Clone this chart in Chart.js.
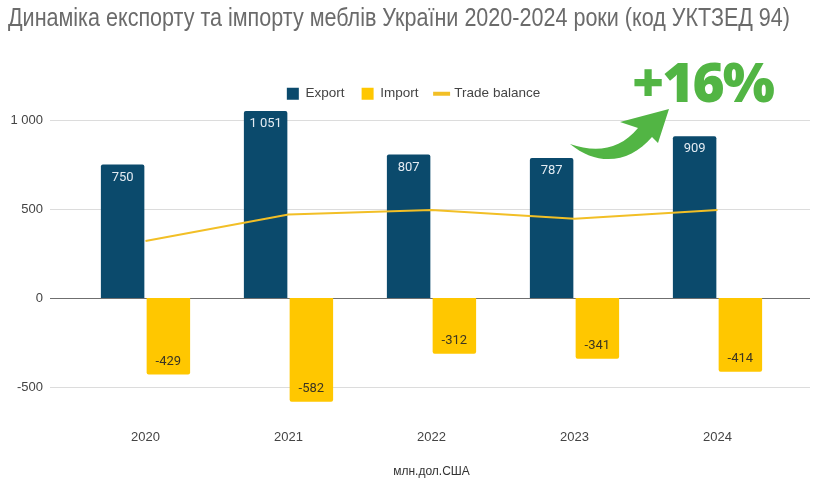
<!DOCTYPE html>
<html lang="uk">
<head>
<meta charset="utf-8">
<title>Динаміка експорту та імпорту меблів</title>
<script src="https://cdn.jsdelivr.net/npm/chart.js@4.4.1/dist/chart.umd.min.js"></script>
<style>
  html, body { margin: 0; padding: 0; background: #fff; }
  #wrap { position: relative; width: 813px; height: 486px; overflow: hidden; }
  #title {
    position: absolute; left: 8px; top: 3px; white-space: nowrap;
    font-family: 'Liberation Sans Narrow', 'Liberation Sans', Arial, sans-serif;
    font-size: 25px; color: #6b6b6b; transform-origin: left top;
  }
  #growth {
    position: absolute; left: 632px; top: 53px; line-height: 1;
    font-family: 'Open Sans', sans-serif; font-weight: 800; font-size: 55px;
    color: #52b544; letter-spacing: -2px;
  }
  #arrow { position: absolute; left: 0; top: 0; pointer-events: none; }
  canvas { position: absolute; left: 0; top: 0; }
</style>
</head>
<body>
<div id="wrap">
  <canvas id="myChart" width="813" height="486"></canvas>
  <div id="title">Динаміка експорту та імпорту меблів України 2020-2024 роки (код УКТЗЕД 94)</div>
  <div id="growth">+16%</div>
  <svg id="arrow" width="813" height="486">
    <path d="M570 144 C 596 153, 620 150, 638 128 L 620 122 L 669 109 L 658 143 L 652 137 C 630 163, 598 167, 570 144 Z" fill="#52b544"/>
  </svg>
</div>
<script>
'use strict';

// ******* DATA *******

let years = ['2020', '2021', '2022', '2023', '2024'];
let exportValues = [750, 1051, 807, 787, 909];
let importValues = [-429, -582, -312, -341, -414];
let balanceValues = [321, 469, 495, 446, 495];
let yTicks = [-500, 0, 500, 1000];


// ******* HELPERS *******

function fmt(v) {
  return String(v).replace(/\B(?=(\d{3})+(?!\d))/g, ' ');
}

// fit the title to the width it has in the reference
let titleEl = document.getElementById('title');
let titleW = titleEl.getBoundingClientRect().width;
titleEl.style.transform = 'scaleX(' + (782 / titleW) + ')';


// ******* PLUGINS *******

// horizontal grid lines, running past the plot on both sides
const gridLines = {
  id: 'gridLines',
  beforeDatasetsDraw(chart) {
    let ctx = chart.ctx;
    let y = chart.scales.y;
    ctx.save();
    for (let i = 0; i < yTicks.length; i++) {
      let py = Math.round(y.getPixelForValue(yTicks[i])) + 0.5;
      ctx.strokeStyle = yTicks[i] === 0 ? '#6f6f6f' : '#dcdcdc';
      ctx.lineWidth = 1;
      ctx.beginPath();
      ctx.moveTo(50, py);
      ctx.lineTo(810, py);
      ctx.stroke();
    }
    ctx.restore();
  }
};

// value labels inside the bar ends
const barLabels = {
  id: 'barLabels',
  afterDatasetsDraw(chart) {
    let ctx = chart.ctx;
    ctx.save();
    ctx.font = '13px Roboto, "Open Sans", sans-serif';
    ctx.textAlign = 'center';
    ctx.textBaseline = 'middle';
    [0, 1].forEach(function (di) {
      let meta = chart.getDatasetMeta(di);
      let values = chart.data.datasets[di].data;
      meta.data.forEach(function (bar, i) {
        let up = values[i] >= 0;
        ctx.fillStyle = up ? '#e3ebf2' : '#3b3522';
        ctx.fillText(fmt(values[i]), bar.x, up ? bar.y + 13 : bar.y - 13);
      });
    });
    ctx.restore();
  }
};

// legend sits a bit right of the canvas centre in the reference
const legendShift = {
  id: 'legendShift',
  afterLayout(chart) {
    chart.legend.left += 19;
    chart.legend.right += 19;
  }
};


// ******* CHART *******

const axisFont = { family: '"Liberation Sans", Arial, sans-serif', size: 13 };

const ctx = document.getElementById('myChart').getContext('2d');
const myChart = new Chart(ctx, {
  type: 'bar',
  data: {
    labels: years,
    datasets: [{
      label: 'Export',
      data: exportValues,
      backgroundColor: '#0b4a6c',
      borderRadius: 2,
      categoryPercentage: 0.64,
      barPercentage: 0.95,
      order: 1
    }, {
      label: 'Import',
      data: importValues,
      backgroundColor: '#ffc700',
      borderRadius: 2,
      categoryPercentage: 0.64,
      barPercentage: 0.95,
      order: 1
    }, {
      type: 'line',
      label: 'Trade balance',
      data: balanceValues,
      borderColor: '#f2bf26',
      backgroundColor: '#f2bf26',
      borderWidth: 2,
      pointRadius: 0,
      tension: 0,
      order: 0
    }]
  },
  options: {
    responsive: false,
    animation: false,
    layout: {
      padding: { top: 70, left: 0, right: 24, bottom: 0 }
    },
    plugins: {
      tooltip: { enabled: false },
      legend: {
        position: 'top',
        maxHeight: 34,
        labels: {
          usePointStyle: true,
          boxWidth: 12,
          boxHeight: 12,
          padding: 17,
          color: '#444',
          font: { family: '"Liberation Sans", Arial, sans-serif', size: 13.5 },
          sort: (a, b) => a.datasetIndex - b.datasetIndex,
          generateLabels(chart) {
            return chart.data.datasets.map(function (ds, i) {
              let isLine = ds.type === 'line';
              return {
                text: ds.label,
                fillStyle: isLine ? ds.borderColor : ds.backgroundColor,
                strokeStyle: isLine ? ds.borderColor : ds.backgroundColor,
                lineWidth: isLine ? 4 : 0,
                pointStyle: isLine ? 'line' : 'rect',
                fontColor: '#444',
                hidden: false,
                datasetIndex: i
              };
            });
          }
        }
      }
    },
    scales: {
      x: {
        offset: true,
        grid: { display: false, drawTicks: false, tickLength: 0 },
        border: { display: false },
        ticks: {
          color: '#444',
          padding: 9,
          font: axisFont
        },
        title: {
          display: true,
          text: 'млн.дол.США',
          color: '#333',
          padding: { top: 10, bottom: 7 },
          font: { family: '"Liberation Sans", Arial, sans-serif', size: 12 }
        }
      },
      y: {
        min: -690,
        max: 1090,
        grid: { display: false, drawTicks: false, tickLength: 0 },
        border: { display: false },
        afterBuildTicks(scale) {
          scale.ticks = yTicks.map(v => ({ value: v }));
        },
        afterFit(scale) {
          scale.width = 74;
        },
        ticks: {
          color: '#444',
          padding: 31,
          font: axisFont,
          callback: v => fmt(v)
        }
      }
    }
  },
  plugins: [gridLines, barLabels, legendShift]
});
</script>
</body>
</html>
